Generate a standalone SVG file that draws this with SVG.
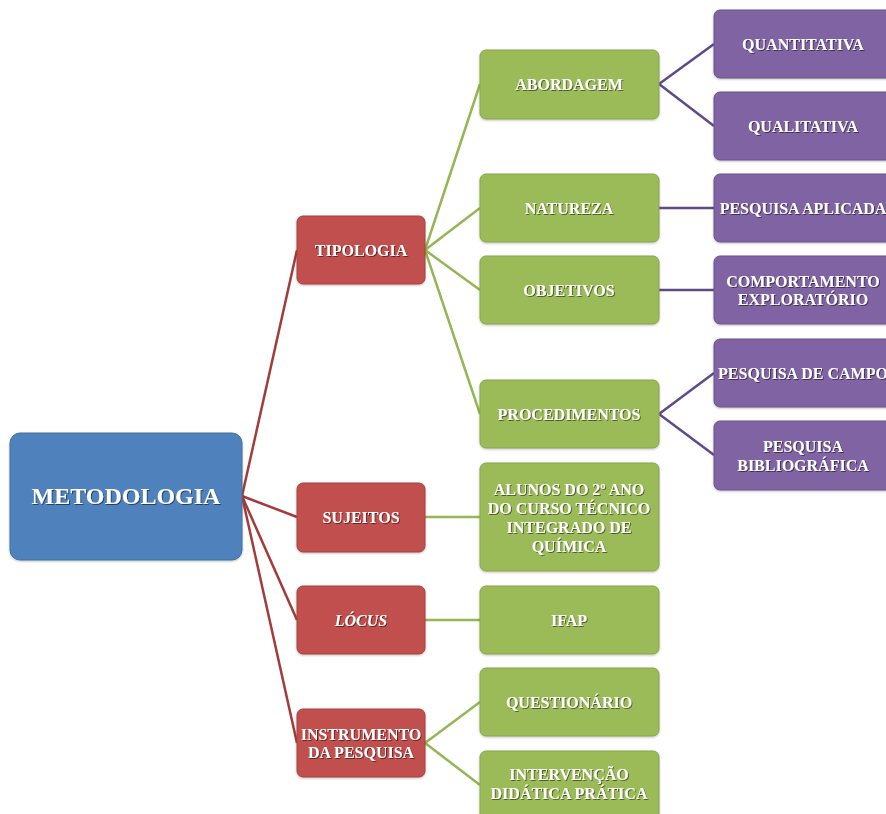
<svg xmlns="http://www.w3.org/2000/svg" width="886" height="814" viewBox="0 0 886 814">
<defs>
<filter id="ts" x="-10%" y="-30%" width="120%" height="160%">
<feDropShadow dx="1" dy="1" stdDeviation="0.6" flood-color="#000" flood-opacity="0.5"/>
</filter>
<filter id="bs" x="-5%" y="-5%" width="110%" height="115%">
<feDropShadow dx="0" dy="1" stdDeviation="1" flood-color="#000" flood-opacity="0.25"/>
</filter>
</defs>
<style>
text{font-family:"Liberation Serif","Times New Roman",serif;font-weight:bold;fill:#fff;text-anchor:middle;font-size:16px;filter:url(#ts)}
.blue{fill:#4F81BD;stroke:#41709f;stroke-width:1}
.red{fill:#C0504D;stroke:#a4403d;stroke-width:1}
.green{fill:#9BBB59;stroke:#86a64a;stroke-width:1}
.purple{fill:#8064A2;stroke:#6a528a;stroke-width:1}
rect{filter:url(#bs)}
.lr{stroke:#A23B3A;stroke-width:2.5;fill:none}
.lg{stroke:#95B655;stroke-width:2.5;fill:none}
.lp{stroke:#5E4A88;stroke-width:2.5;fill:none}
</style>
<rect width="886" height="814" fill="#fff" style="filter:none"/>
<g id="connectors">
<line class="lr" x1="242" y1="496" x2="297" y2="250"/>
<line class="lr" x1="242" y1="496" x2="297" y2="517"/>
<line class="lr" x1="242" y1="496" x2="297" y2="620"/>
<line class="lr" x1="242" y1="496" x2="297" y2="743"/>
<line class="lg" x1="425" y1="250" x2="480" y2="84"/>
<line class="lg" x1="425" y1="250" x2="480" y2="208"/>
<line class="lg" x1="425" y1="250" x2="480" y2="290"/>
<line class="lg" x1="425" y1="250" x2="480" y2="414"/>
<line class="lg" x1="425" y1="517" x2="480" y2="517"/>
<line class="lg" x1="425" y1="620" x2="480" y2="620"/>
<line class="lg" x1="425" y1="743" x2="480" y2="702"/>
<line class="lg" x1="425" y1="743" x2="480" y2="785"/>
<line class="lp" x1="659" y1="84" x2="714" y2="44"/>
<line class="lp" x1="659" y1="84" x2="714" y2="126"/>
<line class="lp" x1="659" y1="208" x2="714" y2="208"/>
<line class="lp" x1="659" y1="290" x2="714" y2="290"/>
<line class="lp" x1="659" y1="414" x2="714" y2="373"/>
<line class="lp" x1="659" y1="414" x2="714" y2="455"/>
</g>
<g id="metodologia"><rect class="blue" x="10" y="433" width="232" height="127" rx="10"/><text x="126" y="504" style="font-size:24px">METODOLOGIA</text></g>
<g id="tipologia"><rect class="red" x="297" y="216" width="128" height="68" rx="6"/><text x="361" y="256">TIPOLOGIA</text></g>
<g id="sujeitos"><rect class="red" x="297" y="483" width="128" height="69" rx="6"/><text x="361" y="523">SUJEITOS</text></g>
<g id="locus"><rect class="red" x="297" y="586" width="128" height="68" rx="6"/><text x="361" y="626" font-style="italic">LÓCUS</text></g>
<g id="instrumento"><rect class="red" x="297" y="709" width="128" height="68" rx="6"/><text x="361" y="740">INSTRUMENTO</text><text x="361" y="758">DA PESQUISA</text></g>
<g id="abordagem"><rect class="green" x="480" y="50" width="179" height="69" rx="6"/><text x="569" y="90">ABORDAGEM</text></g>
<g id="natureza"><rect class="green" x="480" y="174" width="179" height="68" rx="6"/><text x="569" y="214">NATUREZA</text></g>
<g id="objetivos"><rect class="green" x="480" y="256" width="179" height="68" rx="6"/><text x="569" y="296">OBJETIVOS</text></g>
<g id="procedimentos"><rect class="green" x="480" y="380" width="179" height="68" rx="6"/><text x="569" y="420">PROCEDIMENTOS</text></g>
<g id="alunos"><rect class="green" x="480" y="463" width="179" height="108" rx="6"/><text x="569" y="495">ALUNOS DO 2º ANO</text><text x="569" y="514">DO CURSO TÉCNICO</text><text x="569" y="533">INTEGRADO DE</text><text x="569" y="552">QUÍMICA</text></g>
<g id="ifap"><rect class="green" x="480" y="586" width="179" height="68" rx="6"/><text x="569" y="626">IFAP</text></g>
<g id="questionario"><rect class="green" x="480" y="668" width="179" height="68" rx="6"/><text x="569" y="708">QUESTIONÁRIO</text></g>
<g id="intervencao"><rect class="green" x="480" y="751" width="179" height="70" rx="6"/><text x="569" y="780">INTERVENÇÃO</text><text x="569" y="799">DIDÁTICA PRÁTICA</text></g>
<g id="quantitativa"><rect class="purple" x="714" y="10" width="180" height="68" rx="6"/><text x="803" y="50">QUANTITATIVA</text></g>
<g id="qualitativa"><rect class="purple" x="714" y="92" width="180" height="68" rx="6"/><text x="803" y="132">QUALITATIVA</text></g>
<g id="aplicada"><rect class="purple" x="714" y="174" width="180" height="68" rx="6"/><text x="803" y="214">PESQUISA APLICADA</text></g>
<g id="comportamento"><rect class="purple" x="714" y="256" width="180" height="68" rx="6"/><text x="803" y="287">COMPORTAMENTO</text><text x="803" y="305">EXPLORATÓRIO</text></g>
<g id="campo"><rect class="purple" x="714" y="339" width="180" height="68" rx="6"/><text x="803" y="379">PESQUISA DE CAMPO</text></g>
<g id="bibliografica"><rect class="purple" x="714" y="421" width="180" height="69" rx="6"/><text x="803" y="452">PESQUISA</text><text x="803" y="471">BIBLIOGRÁFICA</text></g>
</svg>
